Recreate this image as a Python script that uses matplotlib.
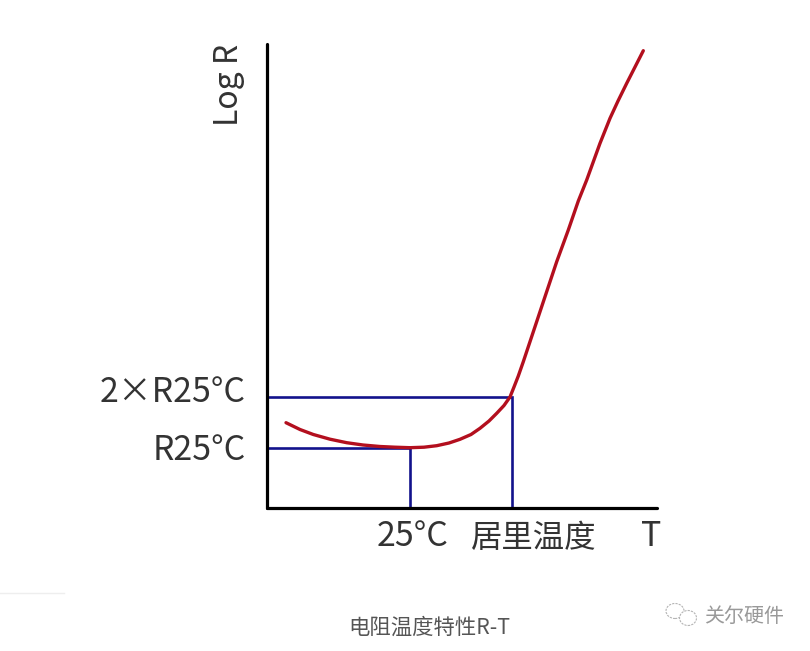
import matplotlib.pyplot as plt
from matplotlib.patches import Ellipse

plt.rcParams['font.family'] = ['Noto Sans CJK SC', 'DejaVu Sans']

# curve (arbitrary units, T right, log R up)
curve_t = [19, 33, 46.3, 63, 79.7, 96, 113, 128, 143, 157, 169.7, 182, 193, 204, 213, 222, 229.7,
           237, 243, 247, 251.3, 256.3, 268, 278, 289.7, 301.3, 311.3, 319.7, 333, 343, 351, 359.7, 368, 376.3]
curve_r = [85.3, 78.5, 73.5, 68.8, 65.3, 63, 61.5, 60.8, 60.3, 60.8, 62.3, 65, 68.7, 73.5, 79.7, 87, 94.7,
           102.5, 111, 121, 132, 146.3, 181.3, 211.3, 246.3, 278, 307, 328, 364.7, 389.7, 407, 424.7, 441, 457.3]

t_25 = 143
t_curie = 245
r_25 = 60
r_2x = 111
x_max = 390
y_max = 464

red = '#b30f1e'
blue = '#12128c'
text_col = '#333333'

fig = plt.figure(figsize=(8.1, 6.51), dpi=100)
W, H = 810, 651
ax = fig.add_axes([267 / W, 1 - 508 / H, (657 - 267) / W, (508 - 44) / H])
ax.set_xlim(0, x_max)
ax.set_ylim(0, y_max)

for s in ['top', 'right']:
    ax.spines[s].set_visible(False)
for s in ['left', 'bottom']:
    ax.spines[s].set_linewidth(2.3)
    ax.spines[s].set_color('black')
    ax.spines[s].set_capstyle('round')

# guide lines
ax.plot([0, t_25, t_25], [r_25, r_25, 0], color=blue, lw=1.9, solid_joinstyle='miter', zorder=2)
ax.plot([0, t_curie, t_curie], [r_2x, r_2x, 0], color=blue, lw=1.9, solid_joinstyle='miter', zorder=2)

ax.plot(curve_t, curve_r, color=red, lw=2.4, solid_capstyle='round', solid_joinstyle='round', zorder=3)

ax.set_xticks([])
ax.set_yticks([])

ax.text(-21, r_25 - 3, 'R25°C', fontsize=24.4, color=text_col, ha='right', va='center')
ax.text(-21, r_2x + 4, '2×R25°C', fontsize=24.4, color=text_col, ha='right', va='center')
ax.text(t_25 + 3, -29, '25°C', fontsize=24.4, color=text_col, ha='center', va='center')
ax.text(t_curie + 22, -30, '居里温度', fontsize=22.6, color=text_col, ha='center', va='center')
ax.text(384, -29, 'T', fontsize=24.4, color=text_col, ha='center', va='center')
ax.text(-38, y_max, 'Log R', fontsize=23, color=text_col, rotation=90, ha='center', va='top')

# caption, divider and watermark
fig.text(429 / W, 1 - 628 / H, '电阻温度特性R-T', fontsize=15.4, color='#555555', ha='center', va='center')
fig.text(744 / W, 1 - 617 / H, '关尔硬件', fontsize=14.4, color='#999999', ha='center', va='center')
fig.add_artist(plt.Line2D([0, 64 / W], [1 - 593 / H] * 2, color='#eeeeee', lw=1))
for cx, cy, w, h in [(675, 611, 18, 15), (688, 618, 17, 15)]:
    fig.add_artist(Ellipse((cx / W, 1 - cy / H), w / W, h / H, transform=fig.transFigure,
                           facecolor='white', edgecolor='#b5b5b5', lw=0.8, linestyle=(0, (2, 1))))

fig.savefig('out.png', dpi=100)
plt.close()
